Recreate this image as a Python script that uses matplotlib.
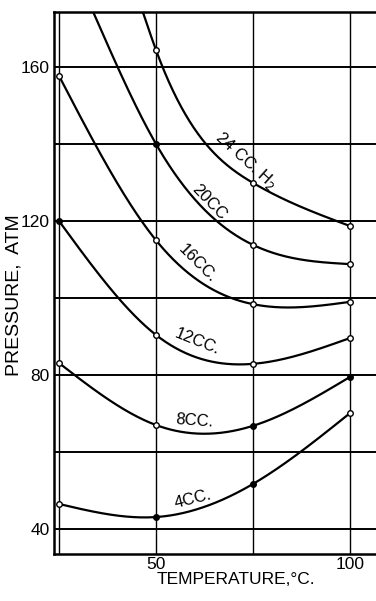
import numpy as np
import matplotlib.pyplot as plt

# temperature (deg C) of the measured points
temps = [25, 50, 75, 100]

# pressure (atm) for each charge of hydrogen
p_4cc = [46.5, 43.1, 51.7, 70.1]
p_8cc = [83.1, 67.0, 66.8, 79.5]
p_12cc = [120.0, 90.4, 82.9, 89.6]
p_16cc = [157.7, 115.0, 98.4, 99.0]
p_20cc = [None, 140.0, 113.8, 108.8]
p_24cc = [None, 164.4, 129.9, 118.7]

# where the two upper curves leave the top of the frame (temp, atm)
top_20cc = (33.8, 174.3)
top_24cc = (46.6, 174.3)

series = [
    ("4CC.", p_4cc, None),
    ("8CC.", p_8cc, None),
    ("12CC.", p_12cc, None),
    ("16CC.", p_16cc, None),
    ("20CC.", p_20cc, top_20cc),
    ("24 CC. H$_2$", p_24cc, top_24cc),
]

# label placement (data coords) and rotation
labels = {
    "4CC.": (59.5, 47.8, 14),
    "8CC.": (59.8, 68.1, -4),
    "12CC.": (60.6, 88.6, -22),
    "16CC.": (60.6, 109.1, -45),
    "20CC.": (64.2, 124.4, -46),
    "24 CC. H$_2$": (73.2, 135.6, -42),
}

# points drawn as solid dots in the original
filled = {("4CC.", 50), ("4CC.", 75), ("8CC.", 75), ("8CC.", 100),
          ("12CC.", 25), ("20CC.", 50)}


def natural_spline(x, y, xs):
    # plain natural cubic spline, just to draw a smooth curve through points
    x = np.asarray(x, float)
    y = np.asarray(y, float)
    n = len(x)
    h = np.diff(x)
    A = np.zeros((n, n))
    b = np.zeros(n)
    A[0, 0] = A[-1, -1] = 1.0
    for i in range(1, n - 1):
        A[i, i - 1] = h[i - 1]
        A[i, i] = 2 * (h[i - 1] + h[i])
        A[i, i + 1] = h[i]
        b[i] = 6 * ((y[i + 1] - y[i]) / h[i] - (y[i] - y[i - 1]) / h[i - 1])
    M = np.linalg.solve(A, b)
    k = np.clip(np.searchsorted(x, xs) - 1, 0, n - 2)
    dx1 = x[k + 1] - xs
    dx0 = xs - x[k]
    hk = h[k]
    return (M[k] * dx1 ** 3 / (6 * hk) + M[k + 1] * dx0 ** 3 / (6 * hk)
            + (y[k] / hk - M[k] * hk / 6) * dx1
            + (y[k + 1] / hk - M[k + 1] * hk / 6) * dx0)


plt.rcParams['font.family'] = ['Liberation Sans', 'DejaVu Sans']

fig = plt.figure(figsize=(3.76, 6.01), dpi=100)
ax = fig.add_axes([54 / 376, 47 / 601, 1 - 54 / 376, (554 - 12) / 601])

ax.set_xlim(23.7, 106.7)
ax.set_ylim(33.5, 174.3)

# grid
for t in temps:
    ax.axvline(t, color='black', lw=1.0, zorder=1)
for p in range(40, 180, 20):
    ax.axhline(p, color='black', lw=1.4, zorder=1)

for name, vals, top in series:
    t = [tt for tt, v in zip(temps, vals) if v is not None]
    v = [vv for vv in vals if vv is not None]
    kt, kv = list(t), list(v)
    if top is not None:
        kt = [top[0]] + kt
        kv = [top[1]] + kv
    tt = np.linspace(kt[0], kt[-1], 400)
    ax.plot(tt, natural_spline(kt, kv, tt), color='black', lw=1.6, zorder=2)
    for ti, vi in zip(t, v):
        fc = 'black' if (name, ti) in filled else 'white'
        ax.plot(ti, vi, 'o', ms=4, mfc=fc, mec='black', mew=1.0, zorder=3)
    lx, ly, rot = labels[name]
    ax.text(lx, ly, name, rotation=rot, ha='center', va='center',
            fontsize=12, color='black', rotation_mode='anchor')

ax.set_xticks([50, 100])
ax.set_yticks([40, 80, 120, 160])
ax.tick_params(length=0, labelsize=12.5, pad=3)
ax.tick_params(axis='x', pad=2)
ax.set_xlabel("TEMPERATURE,°C.", fontsize=12.5)
ax.set_ylabel("PRESSURE,  ATM", fontsize=14)
ax.xaxis.set_label_coords(0.565, -0.033)
ax.yaxis.set_label_coords(-0.097, 0.478)

for s in ['left', 'top', 'bottom']:
    ax.spines[s].set_linewidth(1.8)
ax.spines['right'].set_visible(False)

fig.savefig("out.png", dpi=100, facecolor='white')
